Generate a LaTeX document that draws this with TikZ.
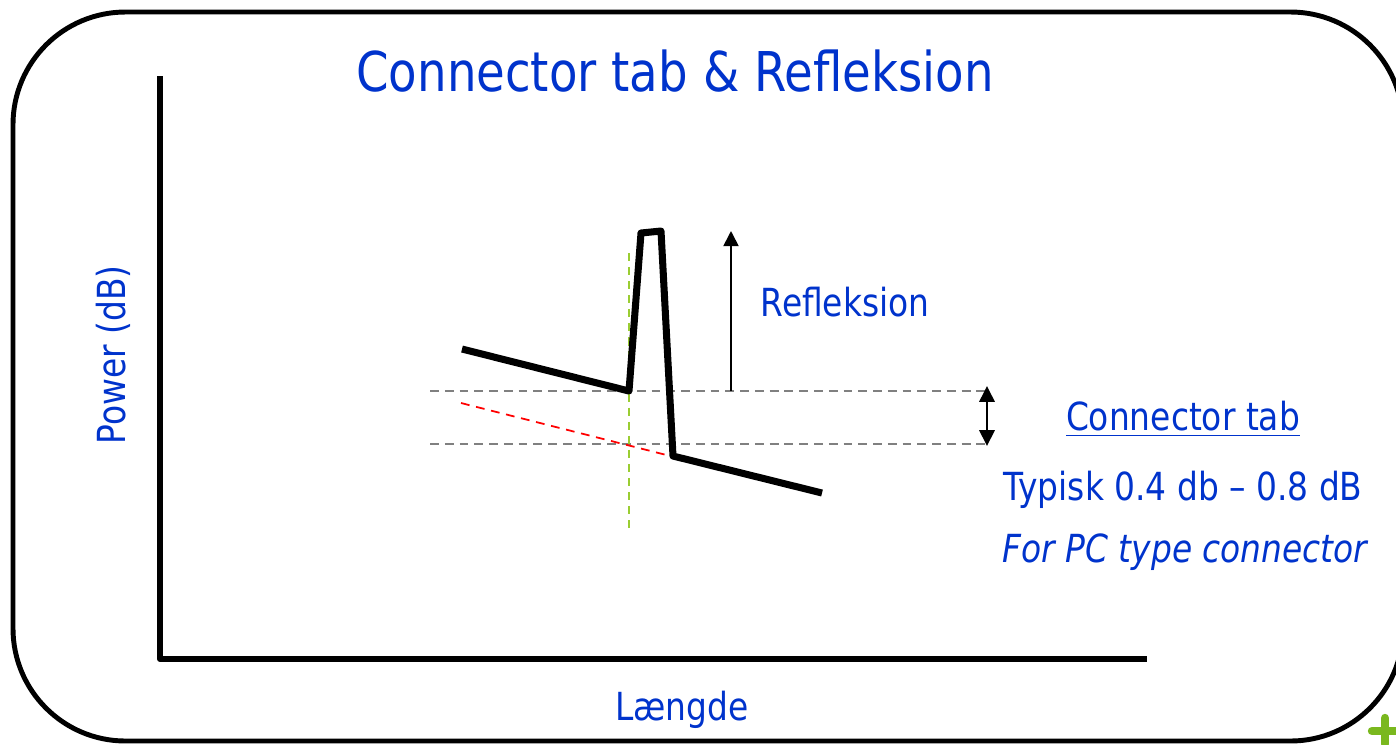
\documentclass[tikz,border=0pt]{standalone}
\usepackage{fontspec}
\setmainfont{DejaVu Sans}[FakeStretch=0.85]
\usepackage{tikz}
\usetikzlibrary{arrows.meta,positioning}
\definecolor{textblue}{RGB}{0,51,204}
\definecolor{guidegreen}{RGB}{154,205,50}
\definecolor{plusgreen}{RGB}{122,184,30}

\begin{document}
\begin{tikzpicture}[x=0.01cm, y=-0.01cm, line join=round,
    text_style/.style={text=textblue, font=\fontsize{11}{13}\selectfont, inner sep=0pt},
    title_style/.style={text=textblue, font=\fontsize{15.6}{18}\selectfont, inner sep=0pt},
    frame_style/.style={draw=black, line width=1.4pt, rounded corners=32pt},
    axis_style/.style={draw=black, line width=1.7pt},
    trace_style/.style={draw=black, line width=2pt},
    level_style/.style={draw=gray, line width=0.5pt, dash pattern=on 2.5pt off 1.7pt},
    slope_style/.style={draw=red, line width=0.5pt, dash pattern=on 2.5pt off 1.9pt},
    guide_style/.style={draw=guidegreen, line width=0.5pt, dash pattern=on 2.3pt off 1.7pt},
    arrow_style1/.style={draw=black, line width=0.5pt, -{Triangle[width=4.3pt,length=4.3pt]}},
    arrow_style2/.style={draw=black, line width=0.8pt, {Triangle[width=4.3pt,length=4.5pt]}-{Triangle[width=4.3pt,length=4.5pt]}}]

	\useasboundingbox (0,0) rectangle (1396,744);

	% frame
	\draw[frame_style] (13,12) rectangle (1403,741);
	\draw[plusgreen, line width=2.4pt, line cap=round] (1372,731) -- (1398,731);
	\draw[plusgreen, line width=2.4pt, line cap=round] (1385,718) -- (1385,744);

	% axes
	\coordinate (ytop) at (160,76);
	\coordinate (origin) at (160,659);
	\coordinate (xend) at (1147,659);
	\draw[axis_style] (ytop) -- (origin) -- (xend);

	\node[title_style] (title) at (675,71) {Connector tab \& Refleksion};
	\node[text_style, rotate=90] (y_label) at (113,355) {Power (dB)};
	\node[text_style, anchor=base] (x_label) at (682,720) {Længde};

	% levels before and after the connector
	\coordinate (hi_l) at (430,391);
	\coordinate (hi_r) at (985,391);
	\coordinate (lo_l) at (430,444);
	\coordinate (lo_r) at (985,444);
	\draw[level_style] (hi_l) -- (hi_r);
	\draw[level_style] (lo_l) -- (lo_r);

	\coordinate (s1) at (461,403);
	\coordinate (s2) at (714,467);
	\draw[slope_style] (s1) -- (s2);

	\coordinate (g1) at (629,253);
	\coordinate (g2) at (629,528);
	\draw[guide_style] (g1) -- (g2);

	% trace
	\coordinate (t1) at (462,349);
	\coordinate (t2) at (629,391);
	\coordinate (t3) at (641,233);
	\coordinate (t4) at (661,231);
	\coordinate (t5) at (673,456);
	\coordinate (t6) at (822,493);
	\draw[trace_style] (t1) -- (t2) -- (t3) -- (t4) -- (t5) -- (t6);

	% arrows
	\coordinate (r1) at (731,391);
	\coordinate (r2) at (731,231);
	\draw[arrow_style1] (r1) -- (r2);
	\node[text_style] (refl_label) at (845,302) {Refleksion};

	\coordinate (d1) at (987,386);
	\coordinate (d2) at (987,446);
	\draw[arrow_style2] (d1) -- (d2);

	\node[text_style, anchor=base] (tab_label) at (1183,430) {\underline{Connector tab}};
	\node[text_style, anchor=base] (typ_label) at (1183,500) {Typisk 0.4 db \textendash{} 0.8 dB};
	\node[text_style, anchor=base] (pc_label) at (1185,562) {\itshape For PC type connector};
\end{tikzpicture}
\end{document}
